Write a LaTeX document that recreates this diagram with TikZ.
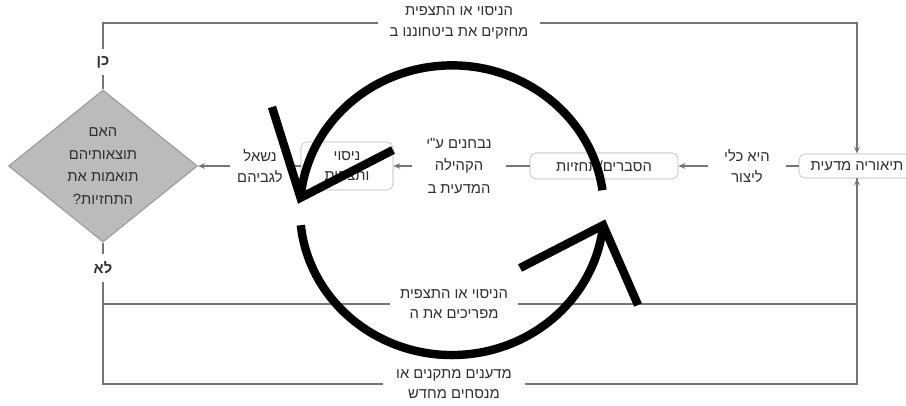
\documentclass[tikz,border=0pt]{standalone}
\usepackage{fontspec}
\usepackage{tikz}
\usetikzlibrary{arrows.meta,shapes.geometric,positioning}
\TeXXeTstate=1
\newfontfamily\hebfont[Script=Hebrew]{Liberation Sans}
\definecolor{LineCol}{HTML}{767676}
\definecolor{BoxFrame}{HTML}{B4B4B4}
\definecolor{DiaFill}{HTML}{BBBBBB}
\definecolor{DiaFrame}{HTML}{9C9C9C}
\definecolor{TxtCol}{HTML}{2E2E2E}
\newcommand{\heb}[1]{\beginR #1\endR}

\begin{document}
\begin{tikzpicture}[x=0.025cm,y=-0.025cm,>=Stealth]
  \tikzstyle{mybox}=[draw=BoxFrame, rounded corners=4pt, fill=white, inner sep=3pt,
              font=\hebfont\fontsize{10.5}{14.5}\selectfont, text=TxtCol, align=center]
  \tikzstyle{mylbl}=[font=\hebfont\fontsize{10.5}{14.5}\selectfont, text=TxtCol,
              align=center, inner xsep=5pt, inner ysep=2pt]
  \tikzstyle{myline}=[LineCol, line width=1.4pt]
  \tikzstyle{myarr}=[->, myline, >={Stealth[length=5pt,width=4pt]}]
  \tikzstyle{bigarc}=[line width=0.21cm, black]
  \useasboundingbox (0,0) rectangle (906,406);
  % boxes
  \node[mybox, minimum width=2.9cm, minimum height=0.6cm] (theory) at (857,166) {\heb{תיאוריה מדעית}};
  \node[mybox, minimum width=3.7cm, minimum height=0.65cm] (expl) at (604,166) {\heb{הסברים/תחזיות}};
  \node[mybox, minimum width=2.3cm, minimum height=1.2cm] (exper) at (347,166) {\heb{ניסוי}\\\heb{ותצפית}};
  \node[shape=diamond, draw=DiaFrame, fill=DiaFill, thick, inner sep=0pt,
        minimum width=4.72cm, minimum height=3.8cm, text=TxtCol, align=center,
        font=\hebfont\fontsize{10.5}{16}\selectfont] (question) at (103,166)
        {\heb{האם}\\\heb{תוצאותיהם}\\\heb{תואמות את}\\\heb{התחזיות?}};
  % labels on the chain
  \node[mylbl, inner xsep=11pt] (lblTool) at (747,166) {\heb{היא כלי}\\\heb{ליצור}};
  \node[mylbl, inner xsep=10pt, font=\hebfont\fontsize{10.5}{16}\selectfont] (lblTest) at (459,166)
        {\heb{נבחנים ע"י}\\\heb{הקהילה}\\\heb{המדעית ב}};
  \node[mylbl] (lblAsk) at (260,166) {\heb{נשאל}\\\heb{לגביהם}};
  % yes / no
  \node[mylbl, inner ysep=5pt, font=\hebfont\bfseries\fontsize{10.5}{14.5}\selectfont] (yes) at (103,62) {\heb{כן}};
  \node[mylbl, inner ysep=5pt, font=\hebfont\bfseries\fontsize{10.5}{14.5}\selectfont] (no) at (103,268) {\heb{לא}};
  \node[mylbl, inner xsep=8pt] (lblConfirm) at (459,23) {\heb{הניסוי או התצפית}\\\heb{מחזקים את ביטחוננו ב}};
  \node[mylbl, inner xsep=7pt] (lblRefute) at (454,304) {\heb{הניסוי או התצפית}\\\heb{מפריכים את ה}};
  \node[mylbl, inner xsep=9pt] (lblRevise) at (454,384) {\heb{מדענים מתקנים או}\\\heb{מנסחים מחדש}};
  % chain
  \draw[myline] (theory) -- (lblTool);
  \draw[myarr] (lblTool) -- (expl);
  \draw[myline] (expl) -- (lblTest);
  \draw[myarr] (lblTest) -- (exper);
  \draw[myline] (exper) -- (lblAsk);
  \draw[myarr] (lblAsk) -- (question);
  % yes branch
  \draw[myline] (question.north) -- (yes);
  \draw[myline] (yes) |- (lblConfirm);
  \draw[myarr] (lblConfirm) -| (theory);
  % no branch
  \draw[myline] (question.south) -- (no);
  \draw[myline] (no) |- (lblRefute);
  \draw[myline] (no) |- (lblRevise);
  \draw[myline] (lblRevise) -| (theory);
  \draw[myarr] (lblRefute) -| (theory);
  % the cycle
  \draw[bigarc] (602.5,190.2) arc[start angle=-8, end angle=-175, x radius=152, y radius=145] coordinate (tipA);
  \draw[bigarc, line join=miter] (272,107) -- (tipA) -- (393,150);
  \draw[bigarc] (300.8,225.2) arc[start angle=174, end angle=6, x radius=152, y radius=145] coordinate (tipB);
  \draw[bigarc, line join=miter] (520,268) -- (tipB) -- (638,305);
\end{tikzpicture}
\end{document}
